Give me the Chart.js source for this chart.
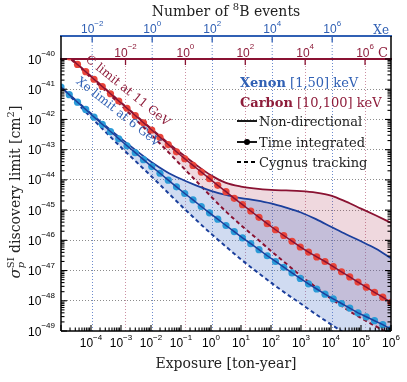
<!DOCTYPE html>
<html>
<head>
<meta charset="utf-8">
<script src="https://cdn.jsdelivr.net/npm/chart.js@4.4.0/dist/chart.umd.min.js"></script>
<style>
  html, body { margin: 0; padding: 0; background: #fff; }
  #wrap { width: 407px; height: 382px; }
</style>
</head>
<body>
<div id="wrap"><canvas id="myChart"></canvas></div>
<script>
// Semua nilai disimpan sebagai log10: exposure [ton-year], sigma [cm^2]
const tiExposureLog = [-5, -4.725, -4.45, -4.175, -3.9, -3.625, -3.35, -3.075, -2.8, -2.525,
  -2.25, -1.975, -1.7, -1.425, -1.15, -0.875, -0.6, -0.325, -0.05, 0.225,
  0.5, 0.775, 1.05, 1.325, 1.6, 1.875, 2.15, 2.425, 2.7, 2.975,
  3.25, 3.525, 3.8, 4.075, 4.35, 4.625, 4.9, 5.175, 5.45, 5.725, 6];
const xeTimeIntegrated = [-40.93, -41.18, -41.43, -41.67, -41.92, -42.16, -42.40, -42.64, -42.87, -43.10,
  -43.33, -43.56, -43.78, -44.01, -44.23, -44.45, -44.66, -44.88, -45.09, -45.30,
  -45.51, -45.71, -45.92, -46.11, -46.31, -46.51, -46.70, -46.89, -47.08, -47.26,
  -47.44, -47.61, -47.78, -47.94, -48.09, -48.24, -48.40, -48.53, -48.66, -48.79, -48.94];
const carbonTimeIntegrated = [-39.68, -39.93, -40.18, -40.42, -40.67, -40.91, -41.15, -41.39, -41.63, -41.87,
  -42.11, -42.35, -42.59, -42.83, -43.07, -43.30, -43.52, -43.74, -43.96, -44.18,
  -44.39, -44.61, -44.82, -45.03, -45.24, -45.45, -45.65, -45.84, -46.03, -46.22,
  -46.39, -46.55, -46.70, -46.87, -47.04, -47.21, -47.38, -47.55, -47.72, -47.88, -48.05];

const curveExposureLog = [-5, -4, -3, -2, -1.5, -1, -0.5, 0, 0.5, 1, 1.5, 2, 2.5, 3, 3.5, 4, 4.5, 5, 5.5, 6];
const xeNonDirectional = [-40.93, -41.80, -42.63, -43.40, -43.72, -43.97, -44.18, -44.36, -44.50, -44.60,
  -44.68, -44.78, -44.92, -45.08, -45.30, -45.55, -45.80, -46.03, -46.28, -46.59];
const carbonNonDirectional = [-39.68, -40.57, -41.44, -42.30, -42.72, -43.12, -43.50, -43.85, -44.10, -44.22,
  -44.29, -44.33, -44.35, -44.37, -44.42, -44.52, -44.72, -44.95, -45.18, -45.42];
const xeCygnus = [-40.93, -41.93, -42.92, -43.87, -44.36, -44.85, -45.32, -45.78, -46.21, -46.63,
  -47.02, -47.40, -47.76, -48.10, -48.45, -48.78, -49.10, -49.40, -49.67, -49.92];
const carbonCygnus = [-39.70, -40.62, -41.53, -42.50, -43.00, -43.52, -44.03, -44.55, -45.05, -45.50,
  -45.92, -46.35, -46.77, -47.18, -47.55, -47.93, -48.27, -48.57, -48.85, -49.12];

// label sumbu (eksponen)
const exposureTicks = [-4, -3, -2, -1, 0, 1, 2, 3, 4, 5, 6];
const sigmaTicks = [-49, -48, -47, -46, -45, -44, -43, -42, -41, -40];
const xeEventTicks = [-2, 0, 2, 4, 6];
const carbonEventTicks = [-2, 0, 2, 4, 6];
// log10 jumlah event 8B per ton-year
const xeEventsLog = 1.96;
const carbonEventsLog = 0.867;

const XE_DARK = '#1b3f9c', XE_LIGHT = '#2b9bd8', XE_TEXT = '#3060b4';
const C_DARK = '#8a1232', C_LIGHT = '#e8443a', C_TEXT = '#8e1d3b';
const SERIF = '"DejaVu Serif", serif';
const SANS = '"Liberation Sans", Arial, sans-serif';

function pts(xs, ys) {
    return xs.map((x, i) => ({ x: Math.pow(10, x), y: Math.pow(10, ys[i]) }));
}

// teks dengan pangkat / indeks
function runs(ctx, list, x, y, align, color) {
    let total = 0;
    list.forEach(r => { ctx.font = r.font; r.w = ctx.measureText(r.text).width; if (!r.stack) total += r.w; });
    let cx = align === 'center' ? x - total / 2 : align === 'right' ? x - total : x;
    ctx.textAlign = 'left';
    ctx.textBaseline = 'alphabetic';
    list.forEach(r => {
        ctx.font = r.font;
        ctx.fillStyle = r.color || color;
        ctx.fillText(r.text, cx, y + (r.dy || 0));
        if (!r.stack) cx += r.w;
    });
}

function pow10(ctx, e, x, base, align, color) {
    const s = e < 0 ? '\u2212' + (-e) : String(e);
    runs(ctx, [
        { text: '10', font: '12px ' + SANS },
        { text: s, font: '8px ' + SANS, dy: -7.5 }
    ], x, base, align, color);
}

function line(ctx, x1, y1, x2, y2) {
    ctx.beginPath(); ctx.moveTo(x1, y1); ctx.lineTo(x2, y2); ctx.stroke();
}

const decor = {
    id: 'decor',
    beforeDatasetsDraw(chart) {
        const { ctx, chartArea: a, scales } = chart;
        ctx.save();
        ctx.strokeStyle = 'rgba(60,100,190,0.75)';
        ctx.lineWidth = 1;
        ctx.setLineDash([1, 2]);
        xeEventTicks.forEach(e => {
            const px = scales.xXe.getPixelForValue(Math.pow(10, e));
            line(ctx, px, scales.xXe.bottom, px, a.top);
        });
        ctx.restore();
    },
    afterDraw(chart) {
        const { ctx, chartArea: a, scales } = chart;
        const sx = scales.x, sy = scales.y;
        const topXe = scales.xXe.bottom;
        ctx.save();

        // bingkai
        ctx.strokeStyle = '#000';
        ctx.lineWidth = 1.5;
        line(ctx, a.left, topXe, a.left, a.bottom);
        line(ctx, a.right, topXe, a.right, a.bottom);
        line(ctx, a.left, a.bottom, a.right, a.bottom);

        // tick ke dalam
        ctx.lineWidth = 1.1;
        for (let e = -49; e <= -40; e++) {
            for (let m = 1; m <= (e < -40 ? 9 : 1); m++) {
                const py = sy.getPixelForValue(m * Math.pow(10, e));
                const len = m === 1 ? 6 : 3.5;
                line(ctx, a.left, py, a.left + len, py);
                line(ctx, a.right - len, py, a.right, py);
            }
        }
        for (let e = -5; e <= 6; e++) {
            for (let m = 1; m <= (e < 6 ? 9 : 1); m++) {
                const px = sx.getPixelForValue(m * Math.pow(10, e));
                line(ctx, px, a.bottom, px, a.bottom - (m === 1 ? 6 : 3.5));
            }
        }
        ctx.lineWidth = 1.3;
        ctx.strokeStyle = XE_TEXT;
        xeEventTicks.forEach(e => {
            const px = scales.xXe.getPixelForValue(Math.pow(10, e));
            line(ctx, px, topXe, px, topXe + 6);
        });
        ctx.strokeStyle = C_DARK;
        carbonEventTicks.forEach(e => {
            const px = scales.xC.getPixelForValue(Math.pow(10, e));
            line(ctx, px, a.top, px, a.top + 6);
        });

        // label tick
        sigmaTicks.forEach(e => pow10(ctx, e, 55, sy.getPixelForValue(Math.pow(10, e)) + 4.5, 'right', '#000'));
        exposureTicks.forEach(e => pow10(ctx, e, sx.getPixelForValue(Math.pow(10, e)), a.bottom + 16, 'center', '#000'));
        xeEventTicks.forEach(e => pow10(ctx, e, scales.xXe.getPixelForValue(Math.pow(10, e)), topXe - 3, 'center', XE_TEXT));
        carbonEventTicks.forEach(e => pow10(ctx, e, scales.xC.getPixelForValue(Math.pow(10, e)), a.top - 2.5, 'center', C_TEXT));
        runs(ctx, [{ text: 'Xe', font: '12px ' + SERIF }], a.right - 2, topXe - 2, 'right', XE_TEXT);
        runs(ctx, [{ text: 'C', font: '13px ' + SERIF }], a.right - 3, a.top - 2.5, 'right', C_TEXT);

        // judul sumbu
        runs(ctx, [
            { text: 'Number of ', font: '14px ' + SERIF },
            { text: '8', font: '10px ' + SERIF, dy: -6 },
            { text: 'B events', font: '14px ' + SERIF }
        ], 226, 16, 'center', '#222');
        runs(ctx, [{ text: 'Exposure [ton-year]', font: '14px ' + SERIF }], 226, 368, 'center', '#222');
        ctx.save();
        ctx.translate(20, 192);
        ctx.rotate(-Math.PI / 2);
        runs(ctx, [
            { text: '\u03c3', font: 'italic 15px ' + SERIF },
            { text: 'p', font: 'italic 10px ' + SERIF, dy: 4, stack: true },
            { text: 'SI', font: '10px ' + SERIF, dy: -6 },
            { text: ' discovery limit [cm', font: '14px ' + SERIF },
            { text: '2', font: '10px ' + SERIF, dy: -6 },
            { text: ']', font: '14px ' + SERIF }
        ], 0, 0, 'center', '#222');
        ctx.restore();

        // legenda
        runs(ctx, [
            { text: 'Xenon', font: 'bold 13px ' + SERIF },
            { text: ' [1,50] keV', font: '13px ' + SERIF }
        ], 240, 87, 'left', XE_TEXT);
        runs(ctx, [
            { text: 'Carbon', font: 'bold 13px ' + SERIF },
            { text: ' [10,100] keV', font: '13px ' + SERIF }
        ], 240, 107, 'left', C_TEXT);
        ctx.strokeStyle = '#000';
        ctx.fillStyle = '#000';
        ctx.lineWidth = 1.8;
        line(ctx, 237, 121, 257, 121);
        line(ctx, 237, 142, 257, 142);
        ctx.beginPath(); ctx.arc(247, 142, 3, 0, Math.PI * 2); ctx.fill();
        ctx.setLineDash([4, 3]);
        line(ctx, 237, 162, 257, 162);
        ctx.setLineDash([]);
        runs(ctx, [{ text: 'Non-directional', font: '13px ' + SERIF }], 259, 126, 'left', '#222');
        runs(ctx, [{ text: 'Time integrated', font: '13px ' + SERIF }], 259, 147, 'left', '#222');
        runs(ctx, [{ text: 'Cygnus tracking', font: '13px ' + SERIF }], 259, 167, 'left', '#222');

        // keterangan di sepanjang kurva
        const along = (text, le, ls, deg, color) => {
            ctx.save();
            ctx.translate(sx.getPixelForValue(Math.pow(10, le)), sy.getPixelForValue(Math.pow(10, ls)));
            ctx.rotate(deg * Math.PI / 180);
            ctx.font = '12px ' + SERIF;
            ctx.fillStyle = color;
            ctx.textAlign = 'center';
            ctx.textBaseline = 'middle';
            ctx.fillText(text, 0, 0);
            ctx.restore();
        };
        along('C limit at 11 GeV', -2.78, -41.06, 39, C_TEXT);
        along('Xe limit at 6 GeV', -3.1, -41.76, 38.5, XE_TEXT);

        ctx.restore();
    }
};

const ctx = document.getElementById('myChart').getContext('2d');
const myChart = new Chart(ctx, {
    type: 'line',
    data: {
        datasets: [
            { data: pts(tiExposureLog, xeTimeIntegrated), borderColor: XE_DARK, borderWidth: 1.5, pointRadius: 0, fill: false },
            { data: pts(tiExposureLog, xeTimeIntegrated), showLine: false, pointRadius: 3.6, pointBackgroundColor: XE_LIGHT, pointBorderWidth: 0, fill: false },
            { data: pts(tiExposureLog, carbonTimeIntegrated), borderColor: C_DARK, borderWidth: 1.5, pointRadius: 0, fill: false },
            { data: pts(tiExposureLog, carbonTimeIntegrated), showLine: false, pointRadius: 3.6, pointBackgroundColor: C_LIGHT, pointBorderWidth: 0, fill: false },
            { data: pts(curveExposureLog, xeNonDirectional), borderColor: XE_DARK, borderWidth: 1.8, pointRadius: 0,
              cubicInterpolationMode: 'monotone', fill: 6, backgroundColor: 'rgba(75,115,200,0.26)' },
            { data: pts(curveExposureLog, carbonNonDirectional), borderColor: C_DARK, borderWidth: 1.8, pointRadius: 0,
              cubicInterpolationMode: 'monotone', fill: 7, backgroundColor: 'rgba(170,50,80,0.19)' },
            { data: pts(curveExposureLog, xeCygnus), borderColor: XE_DARK, borderWidth: 2, borderDash: [4, 3], pointRadius: 0,
              cubicInterpolationMode: 'monotone', fill: false },
            { data: pts(curveExposureLog, carbonCygnus), borderColor: C_DARK, borderWidth: 2, borderDash: [4, 3], pointRadius: 0,
              cubicInterpolationMode: 'monotone', fill: false }
        ]
    },
    options: {
        responsive: true,
        maintainAspectRatio: false,
        animation: false,
        layout: { padding: { left: 61, right: 16, top: 0, bottom: 51 } },
        plugins: {
            legend: { display: false },
            tooltip: { enabled: false },
            filler: { drawTime: 'beforeDatasetsDraw' }
        },
        scales: {
            x: {
                type: 'logarithmic', position: 'bottom', min: 1e-5, max: 1e6,
                ticks: { display: false }, grid: { display: false }, border: { display: false },
                afterFit: s => { s.height = 0; }
            },
            y: {
                type: 'logarithmic', min: 1e-49, max: 1e-40,
                ticks: { display: false },
                grid: { color: 'rgba(110,110,110,0.8)', lineWidth: 1, drawTicks: false },
                border: { display: false, dash: [1, 2] },
                afterBuildTicks: s => { s.ticks = sigmaTicks.slice(1, -1).map(e => ({ value: Math.pow(10, e) })); },
                afterFit: s => { s.width = 0; }
            },
            xC: {
                type: 'logarithmic', position: 'top', weight: 1,
                min: Math.pow(10, -5 + carbonEventsLog), max: Math.pow(10, 6 + carbonEventsLog),
                ticks: { display: false },
                grid: { color: 'rgba(170,70,100,0.6)', lineWidth: 1, drawTicks: false },
                border: { display: true, color: C_DARK, width: 2, dash: [1, 2] },
                afterBuildTicks: s => { s.ticks = carbonEventTicks.map(e => ({ value: Math.pow(10, e) })); },
                afterFit: s => { s.height = 23; }
            },
            xXe: {
                type: 'logarithmic', position: 'top', weight: 2,
                min: Math.pow(10, -5 + xeEventsLog), max: Math.pow(10, 6 + xeEventsLog),
                ticks: { display: false },
                grid: { color: 'rgba(60,100,190,0.75)', lineWidth: 1, drawTicks: false },
                border: { display: true, color: XE_TEXT, width: 2, dash: [1, 2] },
                afterBuildTicks: s => { s.ticks = xeEventTicks.map(e => ({ value: Math.pow(10, e) })); },
                afterFit: s => { s.height = 36; }
            }
        }
    },
    plugins: [decor]
});
</script>
</body>
</html>
